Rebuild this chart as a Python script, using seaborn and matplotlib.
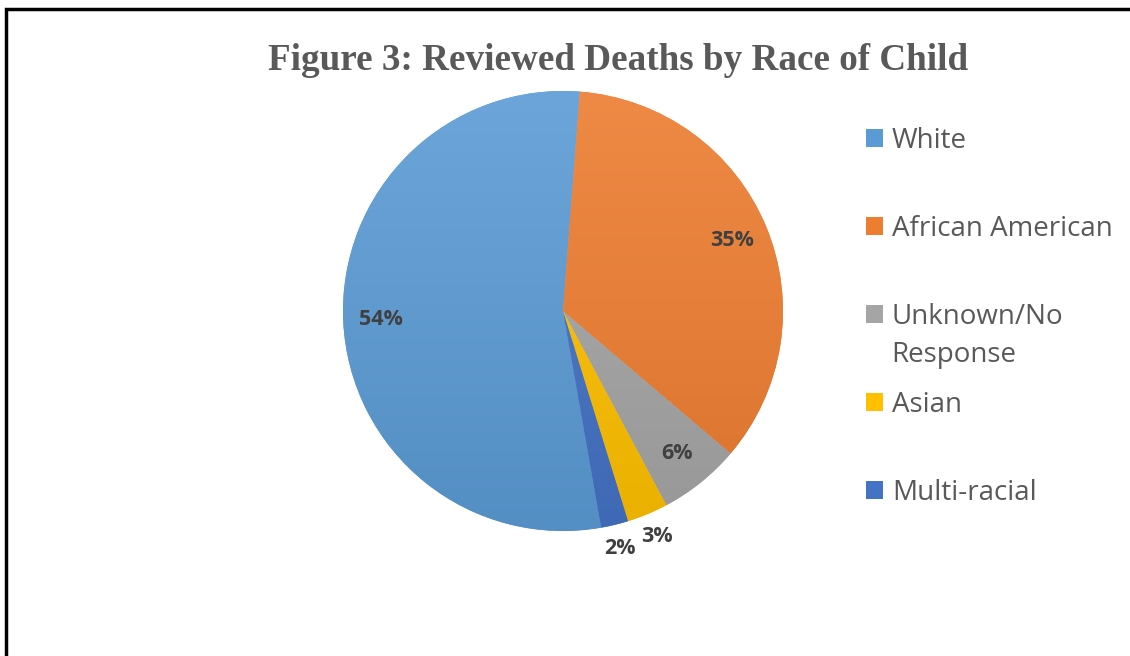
import numpy as np
import matplotlib
matplotlib.use("Agg")
import matplotlib.pyplot as plt
import matplotlib.colors as mcolors
import seaborn as sns
from matplotlib.patches import Rectangle
from matplotlib.text import Annotation

# ================= DADOS =================
categorias = ["White", "African American", "Unknown/No", "Asian", "Multi-racial"]
segunda_linha = {2: "Response"}
percentuais = [54, 35, 6, 3, 2]
cores = ["#5B9BD5", "#ED7D31", "#A5A5A5", "#FFC000", "#4472C4"]
titulo = "Figure 3: Reviewed Deaths by Race of Child"

sns.set_theme(style="white")
plt.rcParams['font.family'] = ['Open Sans', 'DejaVu Sans']

fig = plt.figure(figsize=(11.30, 6.56), dpi=100)

# pizza centrada em ~(563, 311) px, raio ~220 px
ax = fig.add_axes([343 / 1130, 125 / 656, 440 / 1130, 440 / 656])
wedges, _ = ax.pie(percentuais, colors=cores, startangle=-80, counterclock=False,
                   radius=1.0, wedgeprops=dict(linewidth=0))
ax.set_aspect("equal")
ax.axis("off")

# leve gradiente vertical (estilo Excel) em cada fatia
for w, c in zip(wedges, cores):
    base = np.array(mcolors.to_rgb(c))
    claro = base + (1 - base) * 0.10
    escuro = base * 0.92
    t = np.linspace(0, 1, 256)[:, None]
    grad = claro[None, :] * (1 - t) + escuro[None, :] * t
    img = ax.imshow(grad[:, None, :], extent=[-1, 1, -1, 1], aspect="auto", zorder=w.get_zorder() + 0.1)
    img.set_clip_path(w)

# rótulos de porcentagem: dentro para fatias grandes, fora para pequenas
for w, p in zip(wedges, percentuais):
    ang = np.deg2rad((w.theta1 + w.theta2) / 2)
    dist = 0.83 if p >= 5 else 1.11
    ax.text(dist * np.cos(ang), dist * np.sin(ang), f"{p}%", ha="center", va="center",
            fontsize=15.5, fontweight="bold", color="#404040", zorder=5)
ax.set_xlim(-1, 1)
ax.set_ylim(-1, 1)

fig.text(618 / 1130, 1 - 61 / 656, titulo, ha="center", va="center",
         fontsize=26.7, fontweight="bold", color="#595959", family="Liberation Serif")

leg = fig.legend(wedges, categorias, loc="upper left", bbox_to_anchor=(866 / 1130, 1 - 127 / 656),
                 frameon=False, fontsize=20, labelcolor="#595959",
                 handlelength=0.6, handleheight=0.6, handletextpad=0.33,
                 borderpad=0, borderaxespad=0, labelspacing=2.16)

# segunda linha da legenda ("Response") logo abaixo de "Unknown/No"
for i, txt in segunda_linha.items():
    ann = Annotation(txt, xy=(0, 0), xycoords=leg.get_texts()[i], xytext=(-0.5, -22),
                     textcoords="offset points", va="baseline", ha="left",
                     fontsize=20, color="#595959", annotation_clip=False)
    ann.set_zorder(10)
    fig.add_artist(ann)

# moldura (borda superior e esquerda)
fig.patches.append(Rectangle((6 / 1130, -0.2), 2.0, 0.2 + 1 - 9 / 656, transform=fig.transFigure,
                             fill=False, edgecolor="black", linewidth=2.5))

fig.savefig("out.png", dpi=100, facecolor="white")
